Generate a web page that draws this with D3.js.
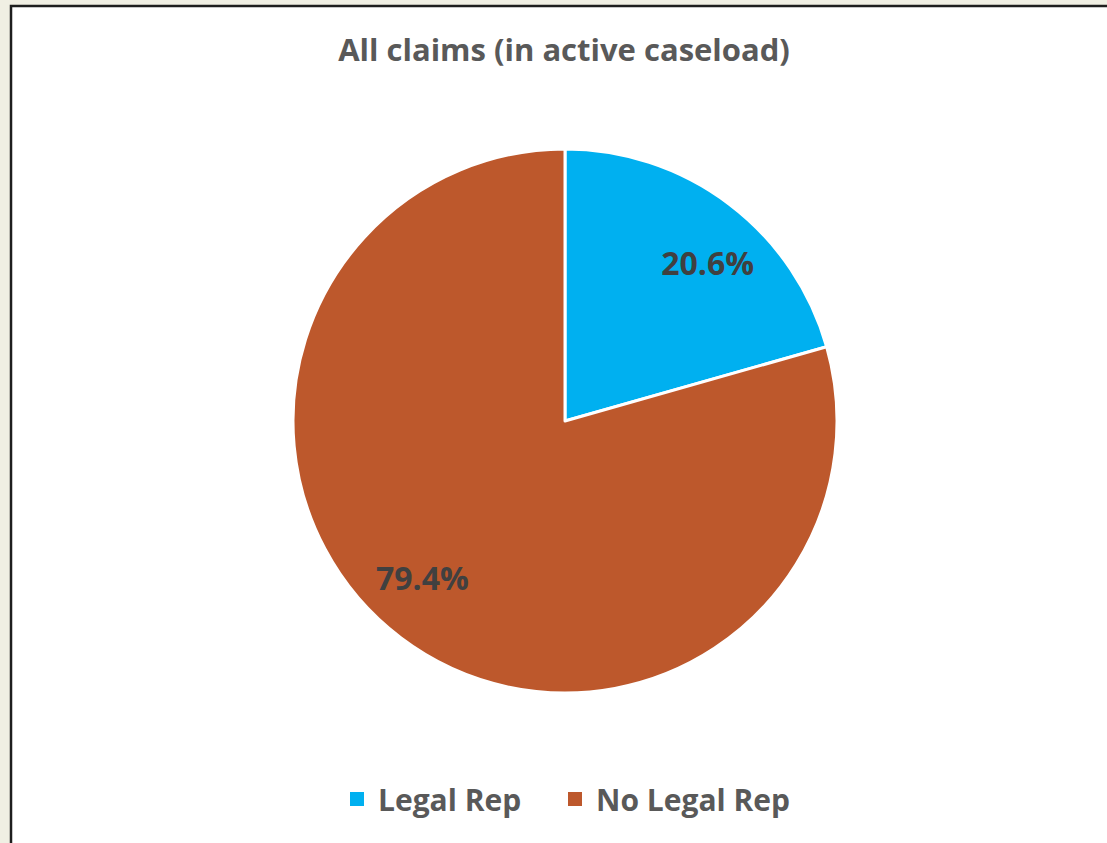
<!DOCTYPE html>
<html>
<head>
<meta charset="utf-8">
<script src="https://cdn.jsdelivr.net/npm/d3@7"></script>
<style>
  html, body { margin: 0; padding: 0; background: #f0efe3; }
  svg { display: block; }
</style>
</head>
<body>
<svg width="1107" height="843"></svg>
<script>
const categories = ['Legal Rep', 'No Legal Rep']
const shares = [20.6, 79.4]
const colours = ['#00b0f0', '#bd582c']
const title = 'All claims (in active caseload)'

const svg = d3.select('svg')
const font = '"Open Sans", "Noto Sans", sans-serif'

// chart frame
svg.append('rect')
  .attr('x', 11).attr('y', 6)
  .attr('width', 1120).attr('height', 860)
  .attr('fill', '#fff')
  .attr('stroke', '#1e1e1e')
  .attr('stroke-width', 2.5)

svg.append('text')
  .attr('x', 564).attr('y', 61)
  .attr('text-anchor', 'middle')
  .attr('font-family', font)
  .attr('font-weight', 700)
  .attr('font-size', 31)
  .attr('fill', '#595959')
  .text(title)

const cx = 565, cy = 421, r = 272

const pie = d3.pie().sort(null).value(d => d)
const arc = d3.arc().innerRadius(0).outerRadius(r)
const arcs = pie(shares)

const g = svg.append('g').attr('transform', `translate(${cx}, ${cy})`)

g.selectAll('path')
  .data(arcs)
  .join('path')
  .attr('d', arc)
  .attr('fill', (d, i) => colours[i])
  .attr('stroke', '#fff')
  .attr('stroke-width', 3)
  .attr('stroke-linejoin', 'round')

// excel "best fit" puts the labels fairly far out
const labelArc = d3.arc().innerRadius(r * 0.78).outerRadius(r * 0.78)
g.selectAll('text')
  .data(arcs)
  .join('text')
  .attr('transform', d => {
    // nudge label angle a little clockwise, like the reference
    const a = (d.startAngle + d.endAngle) / 2 + 0.09
    return `translate(${labelArc.centroid({ startAngle: a, endAngle: a })})`
  })
  .attr('text-anchor', 'middle')
  .attr('dy', '0.36em')
  .attr('font-family', font)
  .attr('font-weight', 700)
  .attr('font-size', 32)
  .attr('fill', '#404040')
  .text(d => d.data.toFixed(1) + '%')

// legend
const legendX = [350, 568]
const legend = svg.append('g')
  .selectAll('g')
  .data(categories)
  .join('g')
  .attr('transform', (d, i) => `translate(${legendX[i]}, 792)`)

legend.append('rect')
  .attr('width', 14).attr('height', 14)
  .attr('fill', (d, i) => colours[i])

legend.append('text')
  .attr('x', 28).attr('y', 8)
  .attr('dy', '0.36em')
  .attr('font-family', font)
  .attr('font-weight', 700)
  .attr('font-size', 30)
  .attr('fill', '#595959')
  .text(d => d)
</script>
</body>
</html>
